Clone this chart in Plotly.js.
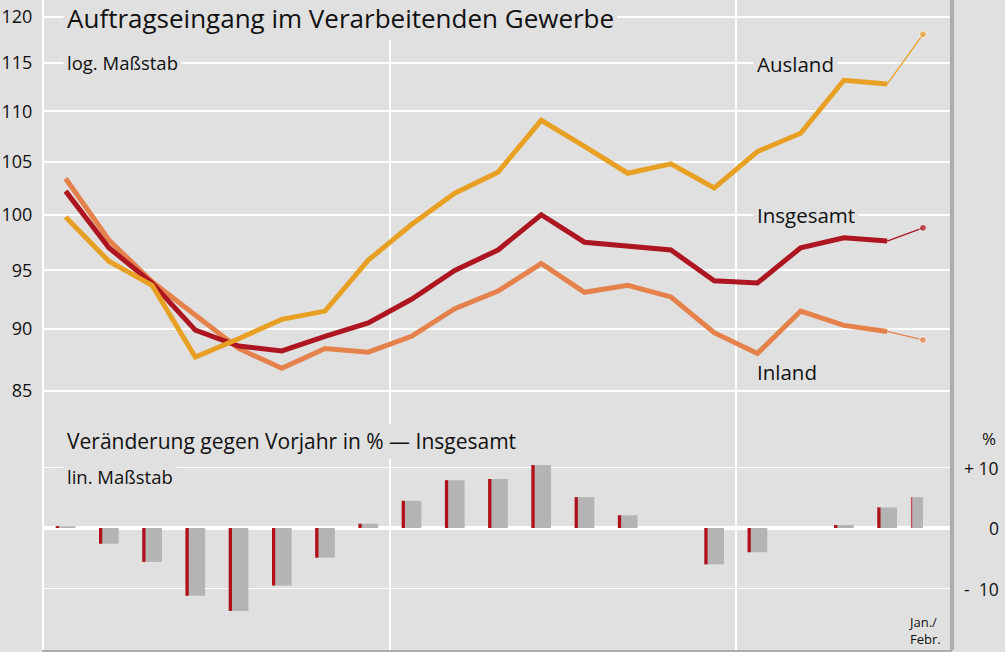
<!DOCTYPE html>
<html>
<head>
<meta charset="utf-8">
<script src="https://cdn.plot.ly/plotly-3.0.1.min.js"></script>
<style>html,body{margin:0;padding:0;background:#e0e0e0;}#chart{width:1005px;height:652px;}</style>
</head>
<body>
<div id="chart"></div>
<script>
// ---- data ----
const periods = [0,1,2,3,4,5,6,7,8,9,10,11,12,13,14,15,16,17,18,19,19.83];
const ausland   = [99.8,95.8,93.7,87.7,89.2,90.8,91.5,95.9,99.1,102.0,104.0,109.1,106.5,103.9,104.8,102.5,106.0,107.8,113.2,112.8,118.1];
const insgesamt = [102.2,97.0,93.9,89.9,88.6,88.2,89.4,90.5,92.5,95.0,96.8,100.0,97.5,97.2,96.8,94.1,93.9,97.0,97.9,97.6,98.8];
const inland    = [103.4,97.7,94.0,91.2,88.4,86.8,88.4,88.1,89.4,91.7,93.2,95.6,93.1,93.7,92.7,89.7,88.0,91.5,90.3,89.8,89.1];
const veraenderung = [0.3,-2.6,-5.6,-11.2,-13.7,-9.5,-4.9,0.7,4.5,7.9,8.1,10.4,5.1,2.1,0,-6.0,-4.0,0,0.5,3.4,5.1];
const leftTicks = [85,90,95,100,105,110,115,120];
const rightTicks = [10,0,-10];
const rightTickText = ['+ 10','0','-  10'];
const lastLabel = 'Jan./<br>Febr.';

// ---- geometry helpers ----
const W = 1005, H = 652, L = 44, R = 952, T = 0, B = 650;
const px = x => (x - L) / (R - L);
const py = y => 1 - (y - T) / (B - T);
const FONT = 'Open Sans, Noto Sans, sans-serif';
const BG = '#e0e0e0';

const cAus = '#e8a024', cGes = '#ad1520', cInl = '#e5824c';

const n = periods.length;
const mainX = periods.slice(0, n-1);
const lastX = periods.slice(n-2);

function lineTraces(vals, color) {
  return [
    {x: mainX, y: vals.slice(0, n-1), type:'scatter', mode:'lines', line:{color, width:5}, yaxis:'y', hoverinfo:'skip'},
    {x: lastX, y: vals.slice(n-2), type:'scatter', mode:'lines+markers', line:{color, width:1.3},
     marker:{color, size:[0,7]}, yaxis:'y', hoverinfo:'skip'}
  ];
}

const greyW = periods.map((p,i) => i === n-1 ? 0.28 : 0.455);
const greyOff = periods.map((p,i) => i === n-1 ? -0.28 : -0.2275);
const redW = periods.map((p,i) => i === n-1 ? 0.03 : 0.075);

const traces = [
  {x: periods, y: veraenderung, type:'bar', yaxis:'y2', width: greyW, offset: greyOff,
   marker:{color:'#b4b4b4'}, hoverinfo:'skip'},
  {x: periods, y: veraenderung, type:'bar', yaxis:'y2', width: redW, offset: greyOff,
   marker:{color: periods.map((p,i)=> i===n-1 ? '#c8505a' : '#b0101a')}, hoverinfo:'skip'},
  ...lineTraces(inland, cInl),
  ...lineTraces(insgesamt, cGes),
  ...lineTraces(ausland, cAus)
];

const logPerPx = (Math.log10(120) - Math.log10(85)) / (391 - 17);
const yRange = [Math.log10(120) - (B - 17) * logPerPx, Math.log10(120) + (17 - T) * logPerPx];
const pxPerUnit2 = (589 - 468) / 20;
const y2Range = [-(B - 528) / pxPerUnit2, (528 - T) / pxPerUnit2];

function ann(text, x, y, size, opts) {
  return Object.assign({text, xref:'paper', yref:'paper', x: px(x), y: py(y), xanchor:'left', yanchor:'middle',
    showarrow:false, font:{family:FONT, size, color:'#111'}, bgcolor:BG, borderpad:3}, opts || {});
}

const annotations = [
  ann('Auftragseingang im Verarbeitenden Gewerbe', 63, 18, 26),
  ann('log. Maßstab', 63, 62, 18.5),
  ann('Ausland', 753, 64, 20.5),
  ann('Insgesamt', 753, 215, 20.5),
  ann('Inland', 753, 372, 20.5, {bgcolor:'rgba(0,0,0,0)'}),
  ann('Veränderung gegen Vorjahr in % — Insgesamt', 63, 441, 21),
  ann('lin. Maßstab', 63, 476, 18.5),
  ann('%', 1000, 438, 17, {xanchor:'right', bgcolor:'rgba(0,0,0,0)'}),
  ann(lastLabel, 924, 630, 13, {xanchor:'center', bgcolor:'rgba(0,0,0,0)', align:'left'})
];
rightTicks.forEach((v,i) => {
  annotations.push({text: rightTickText[i], xref:'paper', yref:'y2', x: px(1001), y: v, xanchor:'right', yanchor:'middle',
    showarrow:false, font:{family:FONT, size:17.5, color:'#111'}});
});

const layout = {
  width: W, height: H,
  margin: {l: L, r: W - R, t: T, b: H - B},
  paper_bgcolor: BG, plot_bgcolor: BG,
  showlegend: false,
  barmode: 'overlay',
  font: {family: FONT, color:'#111'},
  xaxis: {range:[-0.5, 20.5], tickvals:[7.5, 15.5], showticklabels:false, showgrid:true, gridcolor:'#ffffff', gridwidth:2,
    zeroline:false, showline:true, linecolor:'#adadad', linewidth:3, ticks:''},
  yaxis: {type:'log', range: yRange, tickvals: leftTicks, ticktext: leftTicks.map(String), showgrid:true, gridcolor:'#ffffff', gridwidth:2,
    zeroline:false, showline:true, linecolor:'#ffffff', linewidth:2, ticks:'', ticklabelstandoff:6,
    tickfont:{family:FONT, size:18, color:'#111'}},
  yaxis2: {overlaying:'y', side:'right', range: y2Range, tickvals: rightTicks, showticklabels:false, showgrid:true,
    gridcolor:'#ffffff', gridwidth:1.5, zeroline:true, zerolinecolor:'#ffffff', zerolinewidth:4, showline:false, ticks:''},
  shapes: [
    {type:'line', xref:'paper', yref:'paper', x0:1, x1:1, y0:0, y1:1, line:{color:'#adadad', width:4}}
  ],
  annotations
};

Plotly.newPlot('chart', traces, layout, {displayModeBar:false, staticPlot:true});
</script>
</body>
</html>
